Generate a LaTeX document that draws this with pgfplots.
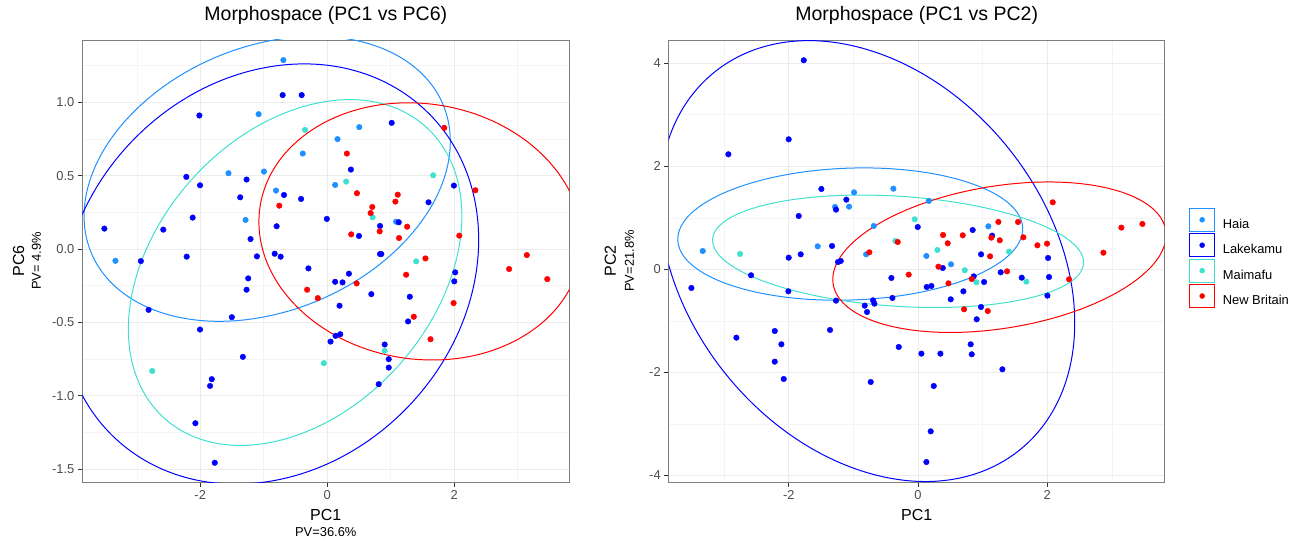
\documentclass[border=0pt]{standalone}
\usepackage{fontspec}
\setmainfont{Liberation Sans}
\usepackage{pgfplots}
\pgfplotsset{compat=1.18}

\definecolor{haia}{HTML}{1E90FF}
\definecolor{lake}{HTML}{0000FF}
\definecolor{maim}{HTML}{40E0D0}
\definecolor{newb}{HTML}{FF0000}
\definecolor{bordergray}{HTML}{7F7F7F}
\definecolor{gridmaj}{HTML}{EBEBEB}
\definecolor{gridmin}{HTML}{F4F4F4}
\definecolor{tickgray}{HTML}{333333}
\definecolor{labgray}{HTML}{4D4D4D}

% confidence ellipse: colour, centre (x,y), then conjugate semi-axes (a,b) and (0,d), in axis units
\newcommand{\confell}[6]{%
  \begin{pgfscope}
    \pgfsetstrokecolor{#1}\pgfsetlinewidth{1pt}%
    \pgfpathellipse{\pgfplotspointaxisxy{#2}{#3}}%
      {\pgfplotspointaxisdirectionxy{#4}{#5}}{\pgfplotspointaxisdirectionxy{0}{#6}}%
    \pgfusepath{stroke}%
  \end{pgfscope}}
\newcommand{\clipbox}{%
  \pgfpathrectanglecorners{\pgfplotspointrelaxisxy{0}{0}}{\pgfplotspointrelaxisxy{1}{1}}%
  \pgfusepath{clip}}

\pgfplotsset{
  panel/.style={
    scale only axis, height=442pt,
    axis line style={draw=bordergray, line width=0.9pt},
    grid=both,
    major grid style={draw=gridmaj, line width=1pt},
    minor grid style={draw=gridmin, line width=0.5pt},
    tick align=outside, tick pos=left,
    major tick length=4.5pt, minor tick length=0pt,
    tick style={draw=tickgray, line width=0.9pt},
    ticklabel style={font=\fontsize{12.9}{15}\selectfont, text=labgray},
    title style={font=\fontsize{19.5}{23}\selectfont, at={(axis description cs:0.5,1.0294)}, anchor=base, inner sep=0pt},
    xlabel style={font=\fontsize{16}{19}\selectfont, at={(axis description cs:0.5,-0.0882)}, anchor=base, inner sep=0pt},
    ylabel style={font=\fontsize{16}{19}\selectfont, anchor=base, inner sep=0pt},
    xtick={-2,0,2}, xticklabels={-2,0,2},
    minor xtick={-3,-1,1,3},
  },
  pts/.style={only marks, mark=*, mark size=2.8pt, color=#1},
  keybox/.style={legend image code/.code={
      \draw[#1, line width=0.8pt] (0pt,-6.9pt) rectangle (25pt,16.1pt);
      \fill[#1] (12.5pt,4.6pt) circle (2.5pt);
      \path (33pt,4.6pt);}},
}

\begin{document}
\begin{tikzpicture}
\path[use as bounding box] (0,0) rectangle (1300pt,538pt);

% left panel: PC1 vs PC6
\begin{axis}[panel,
  at={(82.3pt,56pt)}, anchor=south west, width=487pt,
  xmin=-3.858, xmax=3.815, ymin=-1.586, ymax=1.423,
  ytick={-1.5,-1,-0.5,0,0.5,1},
  yticklabels={-1.5,-1.0,-0.5,0.0,0.5,1.0},
  minor ytick={-1.25,-0.75,-0.25,0.25,0.75,1.25},
  title={Morphospace (PC1 vs PC6)},
  xlabel={PC1}, ylabel={PC6},
  ylabel style={at={(axis description cs:-0.1197,0.5)}},
  extra description/.code={
    \node[rotate=90, anchor=base, inner sep=0pt, font=\fontsize{12.9}{15}\selectfont] at (axis description cs:-0.085,0.5) {PV= 4.9\%};
    \node[anchor=base, inner sep=0pt, font=\fontsize{12.9}{15}\selectfont] at (axis description cs:0.5,-0.1222) {PV=36.6\%};
  },
]
\addplot[pts=haia] coordinates {
(-0.690,1.286) (-1.080,0.918) (0.506,0.830) (0.163,0.748) (-0.385,0.650) (-1.555,0.516)
(-0.996,0.527) (0.126,0.436) (-0.806,0.398) (-1.286,0.198) (1.086,0.186) (-3.336,-0.080)};
\addplot[pts=lake] coordinates {
(-0.701,1.048) (-0.401,1.048) (-2.013,0.909) (1.017,0.859) (0.374,0.541) (-2.219,0.491)
(-2.003,0.434) (-1.270,0.473) (-1.370,0.352) (-0.680,0.368) (-0.411,0.341) (1.997,0.432)
(1.597,0.318) (-2.119,0.214) (-0.005,0.205) (-3.510,0.139) (-2.582,0.132) (-0.796,0.155)
(0.833,0.157) (1.128,0.182) (-1.207,0.068) (0.501,0.089) (-2.935,-0.082) (-2.213,-0.052)
(-1.107,-0.050) (-0.827,-0.032) (-0.733,-0.052) (0.833,-0.034) (0.853,-0.034) (-0.295,-0.132)
(2.018,-0.159) (2.003,-0.220) (-1.244,-0.200) (-1.270,-0.277) (0.343,-0.168) (0.126,-0.223)
(0.242,-0.227) (0.696,-0.307) (0.195,-0.386) (1.302,-0.325) (-2.814,-0.414) (-1.502,-0.464)
(-2.003,-0.548) (1.275,-0.493) (0.132,-0.591) (0.206,-0.580) (0.053,-0.630) (0.906,-0.650)
(0.970,-0.750) (0.970,-0.807) (-1.328,-0.734) (-1.818,-0.886) (-1.845,-0.932) (0.812,-0.920)
(-2.076,-1.186) (-1.771,-1.455)};
\addplot[pts=maim] coordinates {
(-0.348,0.811) (0.300,0.459) (1.671,0.502) (0.717,0.216) (1.402,-0.084) (0.906,-0.693)
(-0.053,-0.777) (-2.756,-0.830)};
\addplot[pts=newb] coordinates {
(1.845,0.825) (0.311,0.650) (0.469,0.380) (1.112,0.370) (1.075,0.323) (2.335,0.400)
(-0.754,0.295) (0.711,0.286) (0.685,0.245) (1.260,0.152) (0.827,0.120) (1.133,0.075)
(0.379,0.100) (2.082,0.091) (1.549,-0.064) (3.146,-0.041) (2.867,-0.136) (3.468,-0.205)
(1.244,-0.175) (0.464,-0.234) (-0.316,-0.277) (-0.148,-0.334) (1.992,-0.368) (1.365,-0.461)
(1.628,-0.614)};
\pgfplotsextra{%
  \begin{pgfscope}\clipbox
  \confell{haia}{-0.945}{0.478}{2.885}{0.254}{0.936}
  \confell{lake}{-0.900}{-0.170}{3.287}{0.233}{1.411}
  \confell{maim}{-0.505}{-0.160}{2.627}{0.385}{1.112}
  \confell{newb}{1.468}{0.120}{2.543}{-0.065}{0.873}
  \end{pgfscope}}
\end{axis}

% right panel: PC1 vs PC2
\begin{axis}[panel,
  at={(668.7pt,56pt)}, anchor=south west, width=496pt,
  xmin=-3.861, xmax=3.819, ymin=-4.127, ymax=4.45,
  ytick={-4,-2,0,2,4}, yticklabels={-4,-2,0,2,4},
  minor ytick={-3,-1,1,3},
  title={Morphospace (PC1 vs PC2)},
  xlabel={PC1}, ylabel={PC2},
  ylabel style={at={(axis description cs:-0.1066,0.5)}},
  extra description/.code={
    \node[rotate=90, anchor=base, inner sep=0pt, font=\fontsize{12.9}{15}\selectfont] at (axis description cs:-0.0700,0.5) {PV=21.8\%};
  },
  legend style={at={(axis description cs:1.0495,0.507)}, anchor=west, draw=none, fill=none,
    inner sep=0pt, outer sep=0pt, row sep=1.6pt, column sep=0pt,
    nodes={inner sep=0pt}, font=\fontsize{12.9}{15}\selectfont},
  legend cell align=left,
]
\addplot[pts=haia, keybox=haia] coordinates {
(-0.382,1.565) (-0.991,1.494) (0.165,1.326) (-1.285,1.210) (-1.068,1.216) (-0.686,0.841)
(1.089,0.834) (-1.554,0.446) (-0.805,0.291) (0.129,0.259) (0.511,0.097) (-3.334,0.356)};
\addlegendentry{Haia}
\addplot[pts=lake, keybox=lake] coordinates {
(-1.770,4.056) (-2.003,2.523) (-2.937,2.232) (-1.497,1.559) (-1.110,1.352) (-1.270,1.158)
(-1.848,1.035) (-0.005,0.821) (0.846,0.763) (1.146,0.653) (-1.332,0.453) (-1.817,0.291)
(-2.003,0.226) (-1.239,0.142) (-1.197,0.162) (0.975,0.291) (2.013,0.220) (-2.586,-0.116)
(-3.510,-0.362) (0.382,0.026) (-0.413,-0.168) (0.134,-0.343) (0.206,-0.323) (0.862,-0.136)
(1.022,-0.246) (1.280,-0.058) (1.605,-0.162) (2.028,-0.149) (2.003,-0.511) (0.702,-0.427)
(0.506,-0.582) (-2.008,-0.427) (-1.270,-0.608) (-0.397,-0.556) (-0.697,-0.602) (-0.676,-0.666)
(-0.826,-0.705) (-0.790,-0.828) (0.975,-0.731) (0.908,-0.970) (-1.363,-1.177) (-2.219,-1.197)
(-2.813,-1.326) (-2.116,-1.455) (-2.219,-1.792) (-2.080,-2.128) (-0.299,-1.507) (0.052,-1.636)
(0.346,-1.636) (0.815,-1.455) (0.831,-1.649) (1.306,-1.940) (-0.733,-2.186) (0.243,-2.264)
(0.196,-3.144) (0.129,-3.739)};
\addlegendentry{Lakekamu}
\addplot[pts=maim, keybox=maim] coordinates {
(-0.052,0.970) (-0.351,0.550) (0.299,0.375) (0.723,-0.019) (0.903,-0.252) (1.409,0.343)
(1.677,-0.239) (-2.756,0.298)};
\addlegendentry{Maimafu}
\addplot[pts=newb, keybox=newb] coordinates {
(2.085,1.300) (3.474,0.880) (3.148,0.809) (2.870,0.323) (1.244,0.919) (1.548,0.919)
(0.387,0.666) (0.692,0.660) (1.135,0.614) (1.265,0.563) (1.631,0.621) (1.848,0.466)
(1.997,0.498) (0.459,0.505) (-0.315,0.530) (-0.754,0.330) (1.115,0.252) (0.315,0.052)
(-0.145,-0.103) (1.378,-0.039) (0.831,-0.188) (0.470,-0.272) (2.338,-0.194) (0.712,-0.776)
(1.079,-0.809)};
\addlegendentry{New Britain}
\pgfplotsextra{%
  \begin{pgfscope}\clipbox
  \confell{haia}{-1.050}{0.684}{2.670}{0.100}{1.280}
  \confell{lake}{-0.790}{0.160}{3.216}{-1.200}{4.105}
  \confell{maim}{-0.310}{0.350}{2.872}{-0.215}{1.069}
  \confell{newb}{1.260}{0.235}{2.580}{0.430}{1.395}
  \end{pgfscope}}
\end{axis}
\end{tikzpicture}
\end{document}
